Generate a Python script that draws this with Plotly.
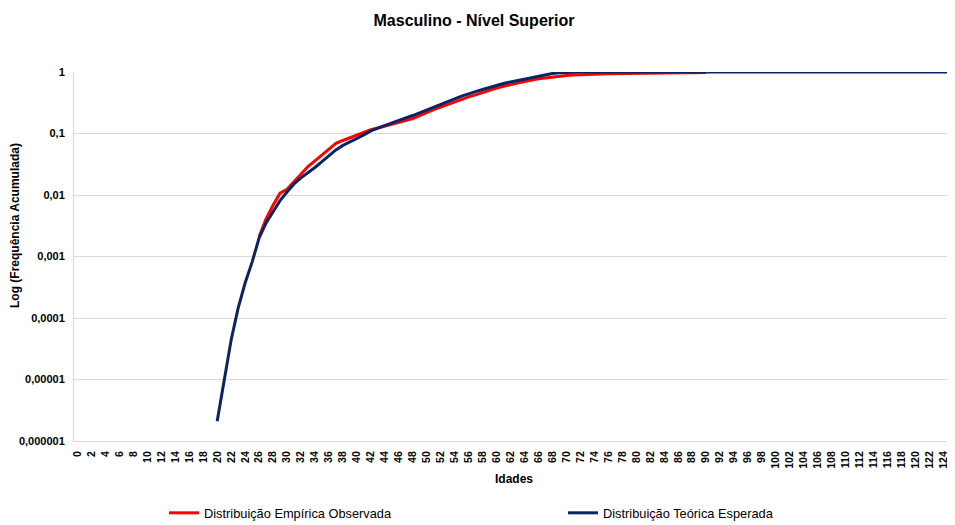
import plotly.graph_objects as go

ages_emp = list(range(26, 91))
emp_values = [0.0021, 0.0041, 0.0068, 0.0107, 0.0124, 0.0165, 0.022, 0.029, 0.036, 0.045,
              0.056, 0.069, 0.077, 0.085, 0.093, 0.104, 0.115, 0.123, 0.132, 0.144,
              0.156, 0.165, 0.175, 0.195, 0.22, 0.245, 0.268, 0.295, 0.33, 0.365,
              0.395, 0.425, 0.465, 0.51, 0.55, 0.585, 0.615, 0.66, 0.70, 0.74,
              0.775, 0.80, 0.83, 0.855, 0.875, 0.89, 0.905, 0.915, 0.925, 0.93,
              0.935, 0.94, 0.945, 0.95, 0.95, 0.955, 0.955, 0.958, 0.96, 0.96,
              0.965, 0.968, 0.972, 0.976, 0.98]

ages_teo = list(range(20, 126))
teo_values = [2.1e-6, 1.0e-5, 4.4e-5, 1.45e-4, 3.7e-4, 8.1e-4, 0.0020, 0.0035, 0.0054, 0.0081,
              0.0112, 0.0151, 0.019, 0.023, 0.028, 0.035, 0.044, 0.054, 0.064, 0.074,
              0.083, 0.095, 0.110, 0.122, 0.135, 0.150, 0.166, 0.18, 0.196, 0.218,
              0.245, 0.272, 0.30, 0.33, 0.365, 0.405, 0.445, 0.48, 0.52, 0.565,
              0.61, 0.65, 0.69, 0.73, 0.775, 0.82, 0.865, 0.905, 0.945, 0.975,
              0.99, 0.995, 0.997, 0.998, 0.999, 0.999, 1.0, 1.0, 1.0, 1.0] + [1.0] * 46

x_ticks = list(range(0, 125, 2))
y_ticks = [1e-6, 1e-5, 1e-4, 1e-3, 1e-2, 1e-1, 1]
y_tick_labels = ["0,000001", "0,00001", "0,0001", "0,001", "0,01", "0,1", "1"]

W, H = 947, 517  # page body has an 8px margin
legend_font = dict(family="Liberation Sans, Arial, sans-serif", size=12.8, color="#000000")

fig = go.Figure()
fig.add_trace(go.Scatter(x=ages_emp, y=emp_values, mode="lines",
                         name="Distribuição Empírica Observada",
                         line=dict(color="#ff0000", width=3), cliponaxis=False,
                         legend="legend"))
fig.add_trace(go.Scatter(x=ages_teo, y=teo_values, mode="lines",
                         name="Distribuição Teórica Esperada",
                         line=dict(color="#0a2463", width=3), cliponaxis=False,
                         legend="legend2"))

fig.update_layout(
    width=W, height=H,
    paper_bgcolor="white", plot_bgcolor="white",
    margin=dict(l=66, r=1, t=64, b=84, autoexpand=False),
    font=dict(family="Liberation Sans, Arial, sans-serif", color="#000000"),
    title=dict(text="<b>Masculino - Nível Superior</b>", x=466 / W, xanchor="center",
               xref="container", yref="container",
               y=1 - 12 / H, yanchor="middle", font=dict(size=16)),
    showlegend=True,
    legend=dict(orientation="h", xref="container", yref="container",
                x=156 / W, xanchor="left", y=1 - 505 / H, yanchor="middle",
                itemwidth=30, font=legend_font, bgcolor="rgba(0,0,0,0)"),
    legend2=dict(orientation="h", xref="container", yref="container",
                 x=555 / W, xanchor="left", y=1 - 505 / H, yanchor="middle",
                 itemwidth=30, font=legend_font, bgcolor="rgba(0,0,0,0)"),
    xaxis=dict(type="linear", range=[-0.5, 125.5], tickmode="array", tickvals=x_ticks,
               ticktext=["<b>%d</b>" % v for v in x_ticks], tickangle=-90,
               tickfont=dict(size=10.5, family="Liberation Sans, Arial"),
               ticklabelstandoff=5, automargin=False,
               showgrid=False, zeroline=False, showline=True, linecolor="#d9d9d9",
               ticks="", title=dict(text="<b>Idades</b>", font=dict(size=12), standoff=6)),
    yaxis=dict(type="log", range=[-6, 0], tickmode="array", tickvals=y_ticks,
               ticktext=["<b>%s</b>" % t for t in y_tick_labels],
               tickfont=dict(size=11), ticklabelstandoff=6, automargin=False,
               showgrid=True, gridcolor="#d9d9d9", gridwidth=1,
               zeroline=False, showline=True, linecolor="#d9d9d9", ticks=""),
    annotations=[dict(text="<b>Log (Frequência Acumulada)</b>", textangle=-90,
                      xref="paper", yref="paper", x=(7 - 66) / 880, y=(433 - 218) / 369,
                      xanchor="center", yanchor="middle", showarrow=False,
                      font=dict(size=12))],
)

fig.write_html("out.html")
